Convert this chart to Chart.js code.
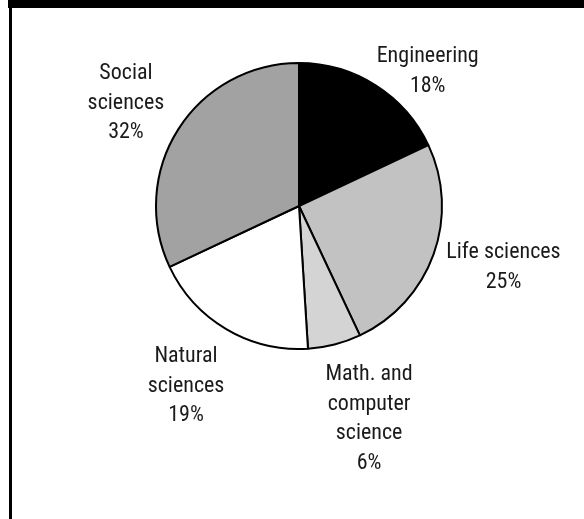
<!DOCTYPE html>
<html>
<head>
<meta charset="utf-8">
<script src="https://cdn.jsdelivr.net/npm/chart.js@4/dist/chart.umd.min.js"></script>
<style>
	html, body { margin: 0; padding: 0; background: #fff; }
	#wrap { position: relative; width: 584px; height: 519px; overflow: hidden; }
	#topbar { position: absolute; left: 8px; top: 0; width: 576px; height: 8px; background: #000; }
	#leftbar { position: absolute; left: 9px; top: 0; width: 3px; height: 519px; background: #000; }
	#chart { position: absolute; left: 0; top: 0; }
</style>
</head>
<body>
<div id="wrap">
	<canvas id="chart" width="584" height="519"></canvas>
	<div id="topbar"></div>
	<div id="leftbar"></div>
</div>
<script>
var fields = ['Engineering', 'Life sciences', 'Math. and computer science', 'Natural sciences', 'Social sciences'];
var shares = [18, 25, 6, 19, 32];
var labelLines = [
	['Engineering', '18%'],
	['Life sciences', '25%'],
	['Math. and', 'computer', 'science', '6%'],
	['Natural', 'sciences', '19%'],
	['Social', 'sciences', '32%']
];
var sliceColors = ['#000000', '#c2c2c2', '#d4d4d4', '#ffffff', '#a2a2a2'];

// where each label block is centred, as a multiple of the radius from the pie centre
var labelSpots = [
	[0.90, -0.94],
	[1.43, 0.43],
	[0.49, 1.49],
	[-0.79, 1.26],
	[-1.21, -0.72]
];

var outsideLabels = {
	id: 'outsideLabels',
	afterDatasetsDraw: function (chart) {
		var ctx = chart.ctx;
		var arcs = chart.getDatasetMeta(0).data;
		ctx.save();
		ctx.font = '22px "Liberation Sans Narrow", "Arial Narrow", "Roboto Condensed", sans-serif';
		ctx.fillStyle = '#1a1a1a';
		ctx.textAlign = 'center';
		ctx.textBaseline = 'middle';
		arcs.forEach(function (arc, i) {
			var r = arc.outerRadius;
			var cx = arc.x + labelSpots[i][0] * r;
			var cy = arc.y + labelSpots[i][1] * r;
			var lines = labelLines[i];
			var lh = 29.5;
			var y0 = cy - (lines.length - 1) * lh / 2;
			lines.forEach(function (t, k) {
				ctx.fillText(t, cx, y0 + k * lh);
			});
		});
		ctx.restore();
	}
};

var chart = new Chart(document.getElementById('chart').getContext('2d'), {
	type: 'pie',
	data: {
		labels: fields,
		datasets: [{
			data: shares,
			backgroundColor: sliceColors,
			borderColor: '#000',
			borderWidth: 2
		}]
	},
	options: {
		responsive: false,
		animation: false,
		layout: { padding: { left: 155, right: 141, top: 62, bottom: 169 } },
		plugins: {
			legend: { display: false },
			tooltip: { enabled: false }
		}
	},
	plugins: [outsideLabels]
});
</script>
</body>
</html>
